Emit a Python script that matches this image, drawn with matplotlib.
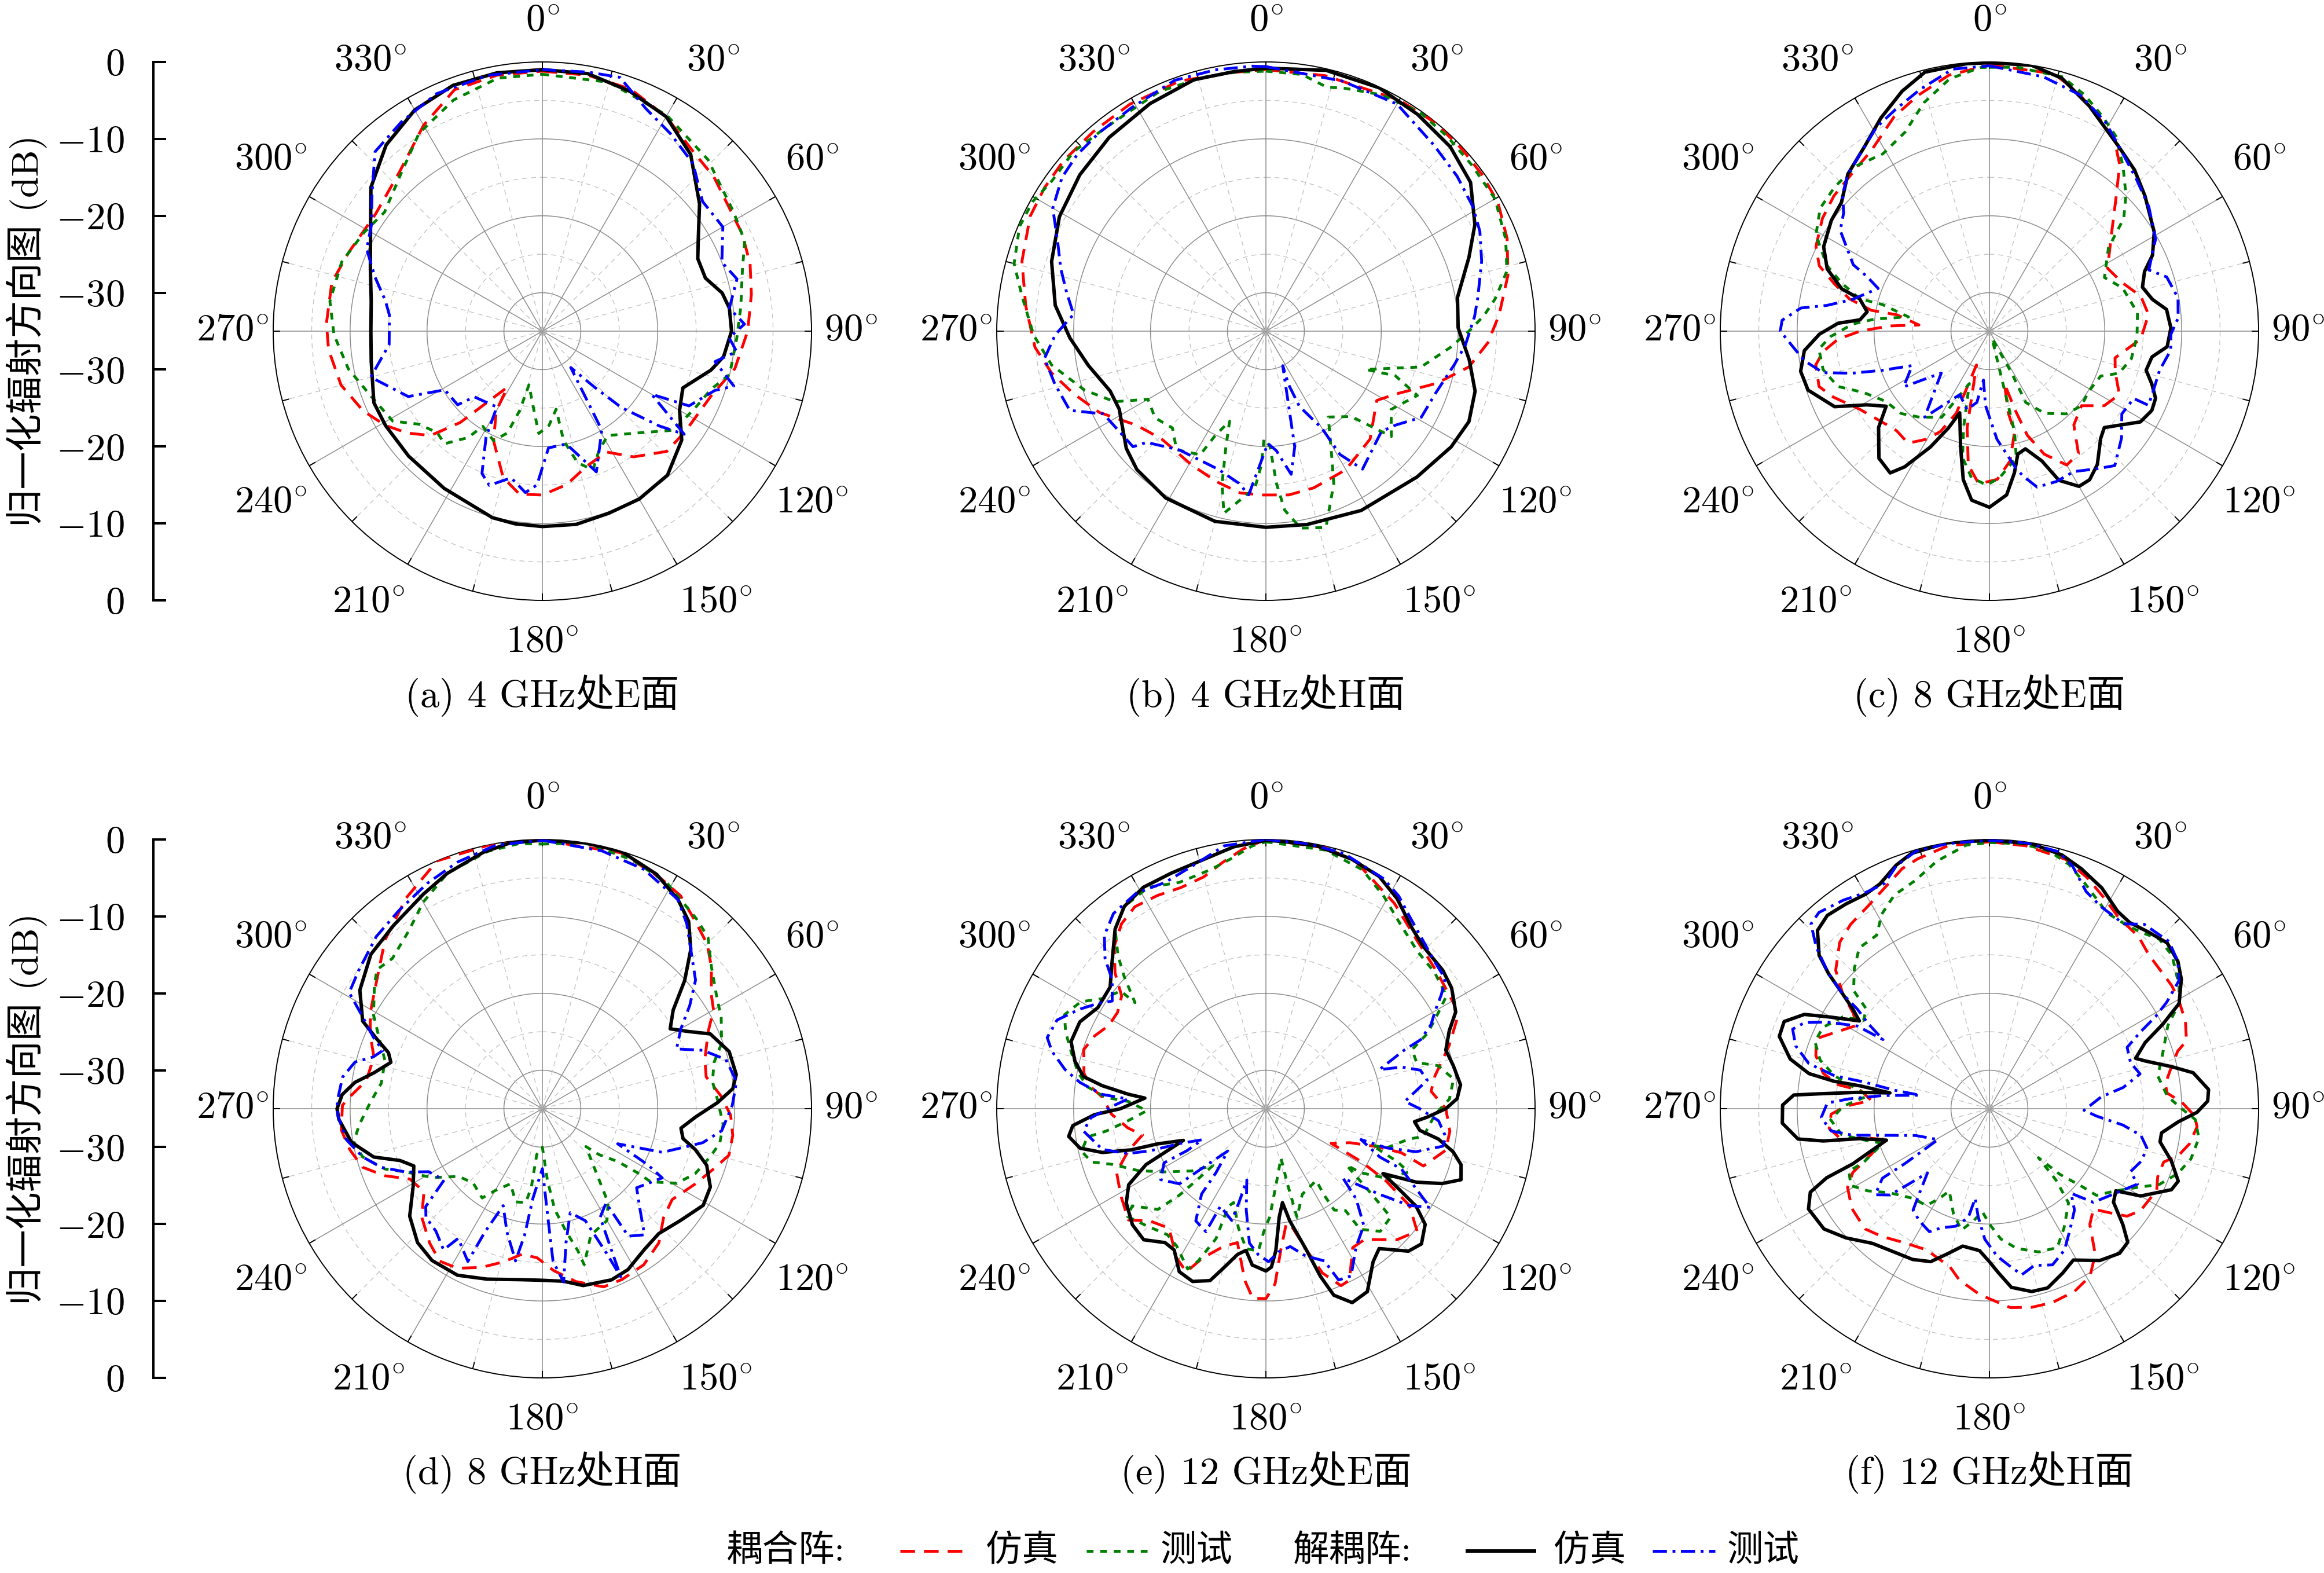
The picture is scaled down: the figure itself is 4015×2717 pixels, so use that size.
import numpy as np
import matplotlib.pyplot as plt
from matplotlib.lines import Line2D

plt.rcParams['mathtext.fontset'] = 'cm'
plt.rcParams['font.family'] = ['cmr10', 'Noto Sans CJK SC', 'DejaVu Sans']

# ----- data: (angle in degrees, normalized pattern in dB) -----
# cs = coupled array simulated (red), cm = coupled array measured (green)
# ds = decoupled array simulated (black), dm = decoupled array measured (blue)

a_cs = [(0,-1.2),(10,-1.2),(20,-1.5),(30,-2.8),(40,-4.5),(48,-5.0),(64,-6.1),(72,-6.6),(80,-7.4),(90,-8.3),(101,-9.5),(111,-11.5),(125,-12.3),(134,-12.5),(144,-14.8),(152,-17.2),(162,-16.5),(171,-14.8),(180,-13.7),(188,-13.6),(195,-15.3),(204,-19.4),(210,-23.0),(212,-26.4),(222,-19.0),(227,-15.1),(233,-13.0),(239,-11.2),(246,-9.5),(255,-7.9),(265,-7.1),(272,-6.9),(283,-6.9),(292,-7.8),(305,-8.5),(318,-7.2),(330,-4.1),(340,-1.6),(350,-1.2)]
a_cm = [(0,-1.6),(15,-1.5),(30,-2.6),(44,-4.0),(58,-5.7),(66,-6.2),(73,-7.8),(83,-9.0),(92,-9.7),(103,-10.0),(109,-11.8),(116,-12.7),(127,-13.6),(137,-16.9),(148,-19.0),(155,-17.7),(160,-15.8),(165,-17.3),(169,-20.5),(170,-24.7),(176,-22.7),(182,-21.7),(186,-24.6),(194,-27.8),(196,-24.2),(199,-21.0),(204,-19.4),(212,-20.4),(215,-18.1),(221,-15.6),(226,-16.0),(233,-14.9),(239,-12.3),(249,-11.2),(259,-9.3),(269,-7.9),(278,-7.1),(289,-7.4),(299,-8.5),(307,-9.3),(318,-7.5),(328,-4.7),(339,-2.8),(350,-1.6)]
a_ds = [(0,-1.0),(10,-1.0),(20,-1.8),(30,-2.8),(40,-5.0),(51,-8.7),(60,-11.6),(65,-12.7),(72,-12.7),(78,-11.1),(83,-10.5),(90,-10.4),(98,-11.2),(103,-12.5),(112,-15.3),(120,-14.4),(128,-12.0),(139,-10.2),(150,-9.8),(160,-9.8),(170,-9.5),(180,-9.6),(188,-9.7),(195,-9.9),(212,-10.9),(227,-11.2),(239,-11.2),(247,-11.2),(260,-12.4),(270,-12.7),(280,-12.4),(290,-11.2),(300,-9.2),(310,-5.9),(320,-3.4),(330,-1.8),(340,-1.0),(350,-0.9)]
a_dm = [(0,-1.0),(10,-0.8),(17,-0.5),(25,-3.1),(33,-4.4),(42,-5.7),(51,-8.2),(60,-7.9),(69,-10.0),(75,-8.8),(83,-10.5),(88,-8.7),(92,-10.7),(96,-9.6),(100,-12.2),(106,-9.1),(109,-11.3),(117,-13.6),(120,-18.6),(126,-12.2),(129,-15.4),(134,-20.7),(137,-25.0),(142,-29.0),(149,-20.0),(159,-15.4),(168,-20.0),(177,-19.8),(182,-15.0),(186,-13.9),(192,-15.5),(199,-13.8),(203,-14.9),(208,-19.4),(211,-23.5),(226,-22.7),(229,-20.4),(239,-20.2),(244,-15.6),(255,-11.9),(265,-15.0),(276,-15.0),(281,-14.2),(288,-12.1),(295,-9.8),(302,-8.8),(309,-6.5),(317,-3.1),(326,-2.2),(336,-1.2),(348,-1.0)]

b_cs = [(0,-1.0),(13,-0.9),(30,-0.3),(39,-0.1),(47,-0.2),(54,-0.3),(61,-0.5),(69,-1.4),(77,-2.7),(86,-4.6),(93,-6.1),(100,-8.2),(107,-11.8),(116,-16.3),(122,-18.0),(136,-15.5),(150,-14.2),(163,-13.7),(172,-13.5),(181,-13.7),(189,-13.7),(198,-14.4),(209,-15.1),(224,-15.5),(234,-14.2),(244,-10.9),(252,-8.7),(259,-6.6),(266,-4.9),(276,-3.6),(286,-2.0),(296,-0.9),(303,-0.7),(310,-0.6),(319,-0.7),(329,-0.6),(341,-0.6),(353,-1.1)]
b_cm = [(0,-1.2),(8,-1.3),(14,-2.3),(18,-1.8),(26,-0.8),(35,-0.2),(43,-0.4),(51,-0.6),(60,-0.6),(69,-1.6),(76,-2.7),(82,-4.9),(86,-6.6),(90,-8.6),(95,-10.9),(103,-14.3),(111,-21.1),(109,-17.2),(113,-13.6),(122,-15.8),(130,-13.7),(135,-19.3),(144,-21.2),(152,-16.8),(156,-13.3),(163,-8.3),(170,-9.0),(174,-11.6),(176,-15.1),(178,-20.0),(181,-21.0),(182,-17.5),(184,-14.6),(190,-12.2),(193,-10.7),(196,-14.3),(199,-19.0),(202,-22.4),(206,-19.8),(208,-16.8),(217,-15.7),(224,-17.5),(232,-16.7),(240,-17.3),(245,-13.3),(252,-10.2),(261,-6.8),(269,-4.8),(278,-3.0),(285,-1.1),(293,-0.2),(299,-0.3),(305,-1.0),(313,-0.8),(321,-1.3),(327,-1.4),(336,-0.9),(346,-1.0),(353,-1.1)]
b_ds = [(0,-0.8),(13,-0.2),(25,-0.1),(35,-0.6),(45,-1.1),(54,-2.1),(63,-4.5),(70,-6.9),(80,-9.7),(89,-10.0),(98,-8.3),(106,-6.7),(114,-6.1),(122,-6.6),(134,-7.7),(152,-8.6),(168,-9.3),(180,-9.5),(195,-9.4),(211,-9.7),(223,-10.4),(230,-11.3),(242,-13.4),(249,-13.3),(259,-11.5),(268,-9.5),(277,-7.4),(288,-5.7),(299,-4.3),(310,-3.4),(321,-2.6),(333,-1.8),(344,-1.0),(353,-1.0)]
b_dm = [(0,-0.6),(17,-1.0),(30,-0.9),(42,-2.4),(51,-3.0),(59,-3.6),(65,-4.3),(72,-5.5),(81,-7.1),(86,-7.8),(94,-9.0),(100,-10.1),(110,-11.5),(119,-11.9),(126,-14.2),(131,-15.1),(145,-13.1),(149,-16.3),(150,-20.4),(156,-24.3),(157,-27.5),(154,-30.0),(166,-19.5),(170,-16.1),(175,-19.4),(179,-20.4),(186,-13.6),(190,-14.9),(199,-16.0),(216,-15.9),(227,-13.8),(229,-12.1),(243,-11.3),(248,-7.5),(256,-6.7),(263,-6.0),(269,-7.6),(275,-9.9),(281,-8.6),(287,-7.1),(293,-5.6),(300,-3.0),(307,-1.8),(313,-1.4),(320,-1.3),(329,-1.1),(340,-0.3),(349,-0.4),(357,-0.5)]

c_cs = [(0,-0.4),(14,-0.5),(20,-1.8),(26,-3.5),(33,-5.2),(38,-7.5),(43,-10.8),(52,-14.9),(62,-17.6),(70,-16.6),(77,-14.8),(84,-14.2),(93,-15.3),(102,-18.3),(108,-17.8),(116,-16.2),(123,-17.2),(129,-19.6),(138,-18.6),(144,-15.3),(150,-14.9),(156,-17.5),(160,-20.6),(162,-24.3),(164,-27.9),(167,-24.0),(166,-21.5),(171,-17.9),(177,-15.7),(184,-15.1),(189,-17.4),(193,-22.1),(201,-30.3),(202,-23.5),(206,-20.5),(210,-18.8),(216,-17.0),(223,-17.3),(228,-16.9),(239,-15.3),(247,-13.0),(252,-11.7),(259,-12.0),(263,-13.2),(267,-15.3),(270,-18.2),(273,-22.0),(275,-25.8),(280,-22.8),(280,-19.4),(283,-16.3),(287,-13.9),(291,-11.3),(296,-9.9),(304,-8.8),(311,-8.2),(319,-7.8),(327,-6.9),(336,-4.5),(343,-3.0),(351,-1.3)]
c_cm = [(0,-0.7),(6,-0.5),(16,-0.6),(22,-1.9),(28,-3.5),(33,-4.8),(39,-7.4),(45,-9.9),(50,-12.2),(55,-16.1),(65,-18.5),(72,-16.8),(83,-15.6),(92,-15.8),(101,-16.2),(108,-17.3),(112,-19.4),(121,-19.9),(129,-19.6),(137,-20.3),(146,-22.1),(153,-24.6),(152,-28.9),(160,-34.0),(166,-21.5),(168,-18.2),(176,-15.9),(181,-15.0),(187,-15.8),(192,-18.2),(195,-22.0),(201,-27.7),(209,-22.2),(219,-20.6),(227,-19.3),(236,-18.7),(244,-16.8),(250,-14.0),(257,-12.8),(264,-12.7),(268,-14.3),(273,-17.2),(276,-20.0),(280,-24.3),(284,-20.6),(284,-17.6),(288,-14.8),(292,-12.2),(299,-9.2),(306,-7.8),(313,-7.5),(321,-7.4),(329,-8.1),(337,-6.9),(344,-4.1),(351,-1.8),(358,-0.7)]
c_ds = [(0,-0.1),(9,0.0),(16,-0.8),(24,-3.0),(35,-5.7),(42,-6.8),(49,-8.2),(59,-10.0),(65,-11.6),(69,-13.4),(74,-14.3),(79,-13.4),(83,-11.8),(89,-11.4),(95,-11.8),(99,-13.6),(104,-14.0),(108,-12.8),(112,-11.7),(116,-11.5),(121,-12.1),(130,-15.5),(134,-14.9),(141,-12.7),(146,-11.7),(150,-11.7),(155,-13.6),(158,-16.8),(163,-19.0),(167,-18.6),(170,-16.3),(174,-13.6),(180,-12.1),(186,-12.9),(190,-15.4),(194,-19.5),(200,-23.7),(203,-21.3),(207,-18.1),(212,-14.2),(215,-12.5),(221,-13.1),(229,-15.9),(234,-18.4),(239,-16.4),(244,-12.6),(252,-10.2),(258,-9.9),(264,-10.8),(269,-12.9),(273,-15.3),(275,-18.1),(279,-18.9),(284,-17.6),(286,-15.0),(291,-12.4),(297,-10.8),(305,-9.9),(311,-9.5),(318,-7.5),(326,-6.0),(333,-3.9),(340,-1.8),(346,-0.3),(355,-0.1)]
c_dm = [(0,-0.5),(12,-1.2),(21,-2.1),(29,-3.9),(36,-5.9),(44,-7.5),(52,-8.7),(61,-10.3),(69,-12.8),(73,-10.9),(80,-10.1),(86,-10.4),(91,-11.4),(96,-11.3),(103,-12.3),(111,-12.3),(115,-12.2),(115,-14.3),(122,-14.7),(129,-12.9),(137,-11.1),(142,-12.3),(149,-13.7),(156,-13.6),(163,-13.8),(167,-15.7),(169,-16.8),(176,-20.9),(183,-25.3),(187,-28.6),(190,-25.6),(196,-24.4),(205,-25.9),(217,-21.0),(229,-26.7),(237,-21.7),(246,-24.0),(250,-20.1),(253,-16.3),(256,-12.7),(261,-10.6),(270,-7.8),(273,-8.0),(277,-10.3),(279,-13.6),(283,-16.7),(291,-19.5),(294,-17.6),(296,-15.3),(304,-11.6),(309,-10.6),(313,-8.9),(318,-7.5),(331,-4.7),(337,-3.7),(344,-2.3),(352,-0.6)]

d_cs = [(0,-0.1),(17,-0.2),(27,-1.3),(33,-2.0),(39,-3.5),(45,-4.7),(50,-6.3),(56,-8.5),(60,-9.3),(65,-11.2),(73,-12.9),(79,-13.3),(86,-11.7),(92,-10.5),(98,-10.0),(104,-10.0),(109,-11.3),(116,-12.8),(125,-14.4),(132,-13.8),(139,-11.9),(147,-10.8),(155,-10.5),(161,-10.5),(169,-12.1),(176,-13.9),(182,-15.6),(188,-15.9),(194,-14.5),(201,-12.9),(208,-11.5),(214,-11.1),(220,-12.2),(228,-13.9),(235,-16.2),(242,-15.5),(247,-12.7),(252,-10.4),(258,-9.4),(264,-8.7),(271,-9.0),(274,-10.1),(279,-11.8),(287,-12.1),(293,-10.7),(299,-9.4),(310,-7.2),(317,-5.0),(327,-2.4),(337,0.0),(349,0.0)]
d_cm = [(0,-0.6),(9,0.0),(20,-0.6),(29,-1.5),(39,-3.2),(44,-4.0),(50,-6.3),(57,-8.0),(63,-8.9),(70,-10.2),(75,-11.9),(81,-12.6),(87,-12.2),(95,-11.4),(101,-11.5),(106,-12.3),(113,-13.4),(119,-15.0),(124,-18.0),(124,-20.2),(125,-23.0),(129,-25.5),(131,-27.5),(139,-24.6),(145,-20.1),(150,-18.2),(159,-17.4),(165,-14.0),(166,-16.0),(169,-18.7),(173,-21.8),(176,-25.7),(180,-30.0),(187,-29.0),(188,-24.7),(190,-22.6),(196,-22.4),(203,-24.4),(210,-22.7),(214,-21.0),(223,-21.8),(231,-21.0),(238,-18.1),(245,-15.5),(249,-13.1),(255,-10.8),(260,-10.1),(265,-11.1),(272,-12.6),(279,-13.8),(287,-13.6),(293,-12.0),(299,-9.9),(306,-8.0),(310,-6.9),(315,-7.4),(323,-6.1),(330,-4.0),(338,-2.0),(348,-0.8),(355,-0.4)]
d_ds = [(0,-0.1),(9,0.0),(17,0.0),(26,-1.1),(33,-2.6),(38,-4.1),(43,-6.7),(48,-10.1),(53,-13.7),(58,-15.4),(62,-13.6),(66,-11.1),(73,-9.6),(80,-9.4),(84,-10.1),(88,-12.2),(93,-15.0),(98,-16.8),(102,-16.3),(105,-14.4),(109,-12.4),(115,-10.9),(121,-10.6),(129,-11.9),(137,-12.8),(144,-12.4),(152,-11.3),(158,-11.0),(167,-11.4),(173,-12.4),(181,-12.7),(187,-12.6),(198,-11.7),(207,-10.7),(216,-10.6),(223,-11.2),(231,-12.8),(239,-15.4),(246,-16.7),(250,-15.3),(254,-12.2),(260,-9.8),(267,-8.5),(270,-8.3),(274,-8.9),(278,-10.4),(282,-12.6),(287,-14.4),(290,-13.7),(293,-11.5),(296,-9.0),(303,-6.7),(312,-5.0),(321,-4.3),(331,-3.1),(338,-2.0),(347,-0.8),(353,-0.2)]
d_dm = [(0,-0.1),(13,-0.6),(23,-1.2),(33,-2.6),(38,-4.5),(43,-6.7),(50,-9.0),(55,-11.6),(60,-14.2),(66,-15.9),(70,-12.8),(75,-10.3),(82,-9.5),(89,-10.3),(97,-11.5),(102,-13.7),(110,-18.4),(115,-24.2),(118,-19.5),(120,-17.0),(130,-19.0),(136,-16.7),(141,-13.9),(146,-15.0),(146,-20.2),(152,-19.0),(155,-10.9),(156,-14.3),(159,-19.4),(165,-21.0),(170,-17.3),(173,-12.3),(176,-15.1),(177,-20.4),(180,-27.2),(186,-23.3),(188,-18.4),(190,-14.9),(196,-18.3),(202,-21.4),(205,-17.3),(206,-12.9),(213,-14.9),(215,-12.6),(221,-13.9),(227,-14.3),(230,-15.2),(234,-19.2),(241,-18.1),(245,-15.5),(250,-12.7),(255,-10.8),(261,-9.2),(268,-8.4),(272,-8.3),(279,-8.7),(284,-9.9),(287,-12.0),(290,-12.9),(293,-11.1),(297,-8.8),(301,-5.7),(307,-5.1),(316,-3.9),(324,-3.2),(333,-2.1),(341,-1.1),(350,-0.2)]

e_cs = [(0,0.0),(13,-0.2),(20,-0.8),(32,-3.5),(42,-5.6),(51,-6.5),(61,-7.0),(65,-7.6),(71,-9.8),(79,-12.6),(84,-13.4),(90,-11.6),(97,-10.9),(103,-11.0),(110,-13.2),(108,-16.5),(109,-19.9),(112,-23.2),(118,-25.4),(119,-20.9),(121,-16.8),(124,-12.5),(129,-9.7),(135,-10.9),(143,-13.7),(148,-13.7),(154,-10.2),(157,-10.0),(161,-12.4),(164,-15.9),(168,-19.6),(170,-19.8),(174,-16.5),(177,-12.2),(180,-10.3),(184,-10.3),(187,-12.5),(192,-17.2),(197,-16.3),(203,-13.9),(206,-11.4),(211,-12.4),(219,-15.0),(226,-14.0),(231,-12.0),(239,-13.0),(247,-13.9),(253,-16.3),(258,-18.6),(262,-16.9),(268,-14.9),(274,-13.7),(277,-12.1),(281,-10.9),(288,-10.1),(293,-10.8),(298,-11.9),(303,-12.0),(308,-11.2),(312,-8.6),(317,-6.1),(322,-4.5),(327,-3.7),(333,-3.9),(339,-4.2),(345,-3.8),(350,-2.5),(355,-1.1)]
e_cm = [(0,-0.3),(13,-0.5),(22,-1.5),(29,-3.4),(36,-5.3),(44,-6.6),(51,-6.8),(58,-7.3),(61,-9.4),(65,-11.8),(68,-14.5),(73,-14.5),(76,-11.9),(81,-10.3),(87,-11.1),(92,-13.0),(100,-14.2),(102,-16.0),(108,-18.5),(109,-20.4),(112,-16.5),(114,-14.7),(120,-16.9),(124,-20.1),(125,-22.2),(129,-17.2),(131,-13.5),(137,-13.2),(142,-15.1),(142,-18.2),(146,-19.1),(146,-21.5),(145,-23.6),(157,-22.9),(164,-20.3),(164,-24.9),(163,-28.3),(173,-24.7),(178,-20.9),(181,-19.0),(183,-16.5),(188,-16.6),(193,-19.1),(199,-22.1),(201,-21.4),(201,-16.9),(204,-13.3),(206,-11.8),(213,-13.7),(218,-14.2),(226,-13.2),(232,-12.2),(234,-13.5),(227,-15.8),(225,-19.1),(224,-22.2),(223,-24.9),(230,-22.4),(238,-19.5),(244,-16.6),(250,-13.8),(253,-11.3),(257,-10.4),(261,-11.5),(262,-14.0),(265,-17.0),(269,-19.5),(273,-17.1),(274,-14.1),(277,-11.6),(281,-10.1),(286,-8.7),(291,-7.1),(295,-6.1),(300,-7.2),(304,-9.4),(309,-10.7),(309,-13.1),(313,-9.8),(316,-7.3),(320,-4.5),(325,-2.9),(332,-2.4),(339,-3.5),(347,-3.1),(352,-2.2),(357,-0.8)]
e_ds = [(0,-0.1),(4,-0.2),(11,-0.2),(19,-0.7),(26,-1.4),(32,-2.8),(39,-4.8),(44,-5.6),(52,-5.8),(57,-6.2),(63,-7.3),(67,-9.1),(72,-10.4),(77,-10.0),(83,-9.5),(87,-10.1),(90,-11.6),(93,-14.0),(95,-15.6),(98,-14.8),(100,-12.2),(103,-10.0),(106,-8.6),(110,-8.0),(113,-10.1),(116,-13.2),(119,-17.6),(121,-15.0),(123,-11.7),(126,-9.4),(131,-8.2),(135,-8.8),(141,-11.6),(145,-10.7),(151,-7.8),(156,-7.4),(160,-9.2),(162,-12.1),(164,-15.9),(168,-20.1),(170,-22.6),(173,-20.8),(176,-16.5),(178,-14.4),(180,-13.9),(185,-14.6),(188,-16.4),(191,-15.7),(195,-13.5),(198,-11.5),(203,-10.6),(208,-11.0),(213,-13.1),(217,-13.2),(223,-11.7),(229,-12.0),(236,-13.1),(241,-14.6),(245,-17.8),(249,-23.5),(252,-20.2),(253,-16.7),(255,-13.0),(258,-10.3),(262,-9.1),(265,-9.8),(268,-12.7),(270,-16.1),(275,-19.2),(276,-17.0),(278,-13.5),(280,-10.9),(284,-9.4),(289,-8.2),(295,-8.3),(301,-9.5),(308,-9.3),(313,-7.6),(320,-4.5),(325,-2.9),(331,-2.1),(338,-2.0),(346,-1.6),(353,-0.7)]
e_dm = [(0,0.0),(9,-0.1),(17,-0.3),(27,-1.4),(32,-2.4),(36,-3.6),(42,-4.9),(49,-5.9),(54,-6.2),(57,-7.8),(60,-9.6),(63,-10.9),(66,-13.0),(67,-15.4),(71,-19.4),(73,-16.5),(76,-14.3),(80,-13.7),(87,-16.9),(90,-15.0),(94,-12.5),(99,-11.3),(102,-11.5),(106,-14.7),(108,-18.5),(108,-22.0),(113,-18.9),(114,-15.7),(118,-12.9),(121,-10.1),(124,-12.5),(127,-16.5),(132,-21.5),(135,-18.4),(140,-15.2),(147,-13.5),(153,-10.6),(157,-10.8),(159,-13.8),(165,-15.2),(170,-16.8),(175,-16.3),(179,-15.1),(183,-16.0),(187,-17.4),(191,-21.6),(195,-25.4),(196,-22.4),(197,-19.8),(205,-21.0),(206,-17.2),(212,-17.8),(217,-21.1),(218,-24.5),(222,-27.6),(227,-23.6),(229,-20.1),(236,-18.5),(242,-20.0),(242,-23.4),(244,-25.8),(248,-22.9),(250,-19.0),(252,-16.1),(256,-13.1),(263,-11.1),(267,-12.2),(271,-15.1),(274,-17.0),(275,-13.6),(278,-10.6),(281,-8.4),(285,-6.2),(288,-5.1),(293,-5.5),(298,-7.5),(302,-9.2),(305,-10.6),(310,-8.9),(313,-6.4),(317,-4.2),(322,-2.8),(329,-2.3),(336,-2.8),(344,-1.9),(351,-0.4)]

f_cs = [(0,-0.3),(8,-0.5),(17,-1.1),(23,-2.4),(29,-3.9),(34,-5.0),(41,-5.4),(46,-6.2),(51,-6.4),(56,-6.4),(60,-6.6),(66,-7.1),(71,-7.9),(73,-9.4),(77,-10.7),(82,-11.9),(85,-11.8),(88,-10.0),(92,-8.3),(95,-7.9),(100,-8.6),(104,-9.7),(107,-11.3),(112,-11.4),(116,-10.8),(124,-11.3),(128,-12.3),(131,-14.4),(134,-16.2),(139,-15.1),(144,-11.6),(149,-9.6),(155,-8.8),(162,-8.5),(168,-8.6),(174,-9.0),(179,-10.1),(183,-10.8),(190,-12.4),(194,-13.8),(204,-14.9),(212,-14.4),(220,-13.3),(226,-12.5),(234,-12.9),(241,-13.9),(245,-15.4),(249,-18.6),(254,-20.5),(257,-18.3),(258,-15.4),(263,-14.0),(268,-14.4),(271,-16.3),(274,-19.6),(278,-18.1),(279,-15.1),(282,-12.9),(287,-11.4),(292,-10.7),(296,-12.5),(302,-14.6),(305,-13.4),(308,-10.8),(312,-8.1),(318,-5.9),(323,-5.0),(329,-4.3),(340,-1.8),(344,-1.2),(351,-0.4)]
f_cm = [(0,-0.4),(7,-0.3),(13,-0.6),(18,-1.6),(23,-3.2),(31,-5.3),(37,-5.2),(41,-4.7),(45,-3.8),(50,-4.0),(57,-5.6),(61,-6.8),(65,-9.4),(73,-11.5),(79,-12.7),(86,-11.8),(90,-10.0),(93,-8.2),(98,-7.5),(104,-8.0),(109,-9.1),(114,-10.8),(118,-13.2),(123,-15.4),(129,-17.1),(130,-19.2),(133,-22.5),(135,-26.0),(137,-22.3),(140,-19.0),(148,-16.7),(154,-14.9),(161,-15.3),(169,-16.5),(175,-18.0),(180,-20.0),(184,-21.6),(188,-20.3),(193,-18.8),(199,-20.6),(206,-23.1),(209,-21.7),(213,-20.0),(221,-19.6),(230,-18.0),(236,-15.9),(241,-14.4),(246,-15.0),(247,-17.3),(252,-20.4),(256,-18.2),(260,-15.5),(266,-14.3),(271,-16.0),(276,-19.1),(279,-17.1),(282,-14.4),(286,-12.1),(291,-10.7),(296,-10.9),(302,-12.5),(305,-15.0),(309,-14.4),(311,-11.6),(316,-9.7),(321,-8.1),(327,-8.1),(331,-6.1),(336,-4.6),(342,-3.8),(348,-2.1),(355,-0.6)]
f_ds = [(0,-0.1),(9,-0.1),(16,-0.7),(21,-1.6),(27,-2.8),(33,-4.4),(37,-4.7),(42,-4.1),(47,-3.4),(52,-3.9),(56,-4.9),(61,-6.8),(64,-9.9),(67,-13.0),(71,-14.9),(73,-13.8),(77,-10.7),(80,-8.1),(85,-6.4),(88,-6.6),(91,-8.0),(94,-10.4),(98,-12.4),(101,-12.4),(106,-10.4),(111,-8.7),(114,-9.1),(120,-12.3),(123,-15.4),(127,-14.8),(131,-12.0),(134,-10.0),(138,-9.7),(144,-10.6),(151,-12.5),(156,-11.6),(162,-10.5),(167,-10.6),(173,-11.6),(177,-13.7),(180,-15.1),(184,-16.5),(191,-16.8),(196,-15.4),(201,-13.7),(207,-13.0),(215,-12.5),(221,-11.8),(228,-9.9),(234,-8.4),(241,-8.1),(245,-9.3),(247,-12.0),(248,-15.8),(253,-21.0),(257,-17.7),(259,-13.0),(261,-9.8),(266,-8.0),(271,-8.1),(274,-9.5),(275,-12.8),(277,-17.6),(279,-21.9),(280,-18.0),(280,-14.5),(281,-11.1),(284,-8.3),(289,-6.1),(293,-6.0),(297,-8.0),(300,-11.2),(304,-14.6),(306,-13.1),(308,-10.8),(310,-7.7),(312,-5.2),(316,-2.8),(320,-2.2),(325,-2.5),(330,-2.8),(334,-2.5),(339,-1.1),(343,-0.3),(351,0.0)]
f_dm = [(0,-0.1),(8,-0.1),(15,-0.4),(19,-1.7),(24,-4.1),(29,-5.0),(36,-5.3),(40,-3.7),(47,-3.1),(52,-3.9),(56,-5.3),(59,-8.1),(61,-10.3),(63,-12.9),(66,-15.4),(72,-15.7),(77,-14.9),(81,-17.4),(84,-20.4),(91,-22.7),(94,-21.0),(97,-17.5),(100,-15.0),(104,-13.9),(109,-14.1),(114,-14.9),(117,-13.4),(124,-15.3),(132,-16.8),(136,-19.7),(140,-17.8),(146,-16.2),(152,-14.2),(158,-13.1),(164,-13.8),(169,-13.0),(173,-14.5),(177,-15.8),(182,-18.0),(186,-20.9),(189,-23.2),(191,-20.6),(196,-19.1),(202,-18.3),(206,-17.2),(212,-17.8),(217,-18.5),(220,-21.0),(224,-23.4),(227,-20.6),(229,-17.9),(233,-16.4),(237,-18.4),(237,-21.9),(239,-27.2),(250,-24.8),(256,-20.7),(259,-16.9),(262,-14.2),(267,-13.1),(272,-13.9),(274,-16.7),(277,-21.0),(281,-25.8),(281,-22.3),(282,-18.4),(282,-14.4),(284,-10.8),(288,-8.5),(292,-7.4),(295,-8.5),(298,-11.0),(302,-14.7),(303,-18.5),(305,-15.8),(307,-13.5),(308,-10.8),(310,-7.7),(313,-4.2),(316,-1.6),(319,-1.2),(325,-1.9),(330,-2.6),(335,-2.7),(339,-1.2),(344,-0.2),(351,-0.1)]

captions = ['(a) 4 GHz处E面', '(b) 4 GHz处H面', '(c) 8 GHz处E面',
            '(d) 8 GHz处H面', '(e) 12 GHz处E面', '(f) 12 GHz处H面']
theta_ticks = list(range(0, 360, 30))
scale_pos = [35, 25, 15, 5, -5, -15, -25, -35]
scale_lbl = ['0', '-10', '-20', '-30', '-30', '-20', '-10', '0']

# ----- layout (pixels of the 4016x2717 output) -----
W, H = 4016, 2717
R = 465
COLS = [937, 2187, 3437]
ROWS = [572, 1915]
FS = 48

# offset of each angle label centre from the plot centre, in pixels (y up)
LBL_OFF = {0: (0, 535), 30: (295, 466), 60: (466, 295), 90: (533, 0),
           120: (466, -297), 150: (300, -469), 180: (0, -538), 210: (-300, -469),
           240: (-469, -297), 270: (-535, 0), 300: (-469, 295), 330: (-297, 466)}

STY = {
    'cs': dict(color='#ff0000', lw=3.5, ls=(0, (5.2, 3.2))),
    'cm': dict(color='#008000', lw=3.5, ls=(0, (2.4, 2.4))),
    'ds': dict(color='black', lw=4.3, ls='-'),
    'dm': dict(color='#0000ff', lw=3.5, ls=(0, (5, 2, 1, 2))),
}

fig = plt.figure(figsize=(W / 100, H / 100), dpi=100)


def polar_panel(cx, cy):
    ax = fig.add_axes([(cx - R) / W, (H - cy - R) / H, 2 * R / W, 2 * R / H],
                      projection='polar')
    ax.set_theta_zero_location('N')
    ax.set_theta_direction(-1)
    ax.set_ylim(-35, 0)
    ax.set_xticks([])
    ax.set_yticks([])
    ax.grid(False)
    ax.spines['polar'].set_linewidth(1.4)
    ring = np.linspace(0, 2 * np.pi, 721)
    for lv in (-10, -20, -30):
        ax.plot(ring, np.full_like(ring, lv), color='#8c8c8c', lw=1.1, zorder=1)
    for lv in (-5, -15, -25):
        ax.plot(ring, np.full_like(ring, lv), color='#c4c4c4', lw=1.0,
                ls=(0, (6, 5)), zorder=1)
    for a in theta_ticks:
        t = np.deg2rad(a)
        ax.plot([t, t], [-35, 0], color='#8c8c8c', lw=1.1, zorder=1)
        dx, dy = LBL_OFF[a]
        ax.text(0.5 + dx / (2 * R), 0.5 + dy / (2 * R), r'$%d^{\circ}$' % a,
                transform=ax.transAxes, ha='center', va='center', fontsize=FS)
        t2 = np.deg2rad(a + 15)
        ax.plot([t2, t2], [-35, 0], color='#c4c4c4', lw=1.0, ls=(0, (6, 5)), zorder=1)
        for tt in (t, t2):
            ax.plot([tt, tt], [-0.85, 0], color='black', lw=1.4, zorder=2)
    return ax


def draw(ax, pts, key):
    ang = [p[0] for p in pts] + [pts[0][0]]
    val = [p[1] for p in pts] + [pts[0][1]]
    ax.plot(np.deg2rad(ang), val, zorder=3, **STY[key])


def scale_axis(cy):
    ax = fig.add_axes([265 / W, (H - cy - R) / H, 0.0005, 2 * R / H])
    ax.set_ylim(-35, 35)
    ax.set_yticks(scale_pos)
    ax.set_yticklabels(['$%s$' % s for s in scale_lbl])
    ax.set_xticks([])
    for s in ('top', 'right', 'bottom'):
        ax.spines[s].set_visible(False)
    ax.spines['left'].set_linewidth(2.9)
    ax.tick_params(axis='y', direction='in', length=16, width=2.9, labelsize=FS, pad=36)
    ax.patch.set_visible(False)
    fig.text(46 / W, 1 - cy / H, '归一化辐射方向图 (dB)', rotation=90,
             ha='center', va='center', fontsize=47)


panels = [(a_cs, a_cm, a_ds, a_dm), (b_cs, b_cm, b_ds, b_dm), (c_cs, c_cm, c_ds, c_dm),
          (d_cs, d_cm, d_ds, d_dm), (e_cs, e_cm, e_ds, e_dm), (f_cs, f_cm, f_ds, f_dm)]

for i, curves in enumerate(panels):
    cx, cy = COLS[i % 3], ROWS[i // 3]
    ax = polar_panel(cx, cy)
    for pts, key in zip(curves, ('cs', 'cm', 'ds', 'dm')):
        draw(ax, pts, key)
    ax.set_ylim(-35, 0)
    fig.text(cx / W, 1 - (cy + 629) / H, captions[i], ha='center', va='center', fontsize=48)

for cy in ROWS:
    scale_axis(cy)

# ----- legend -----
LY = 1 - 2679 / H
for x, s in [(1255, '耦合阵:'), (1703, '仿真'), (2005, '测试'),
             (2233, '解耦阵:'), (2684, '仿真'), (2984, '测试')]:
    fig.text(x / W, LY, s, ha='left', va='center', fontsize=45)
for (x0, x1), key in zip([(1555, 1677), (1877, 1985), (2535, 2651), (2855, 2963)],
                         ('cs', 'cm', 'ds', 'dm')):
    fig.add_artist(Line2D([x0 / W, x1 / W], [LY, LY], transform=fig.transFigure, **STY[key]))

fig.savefig('out.png', dpi=100)
